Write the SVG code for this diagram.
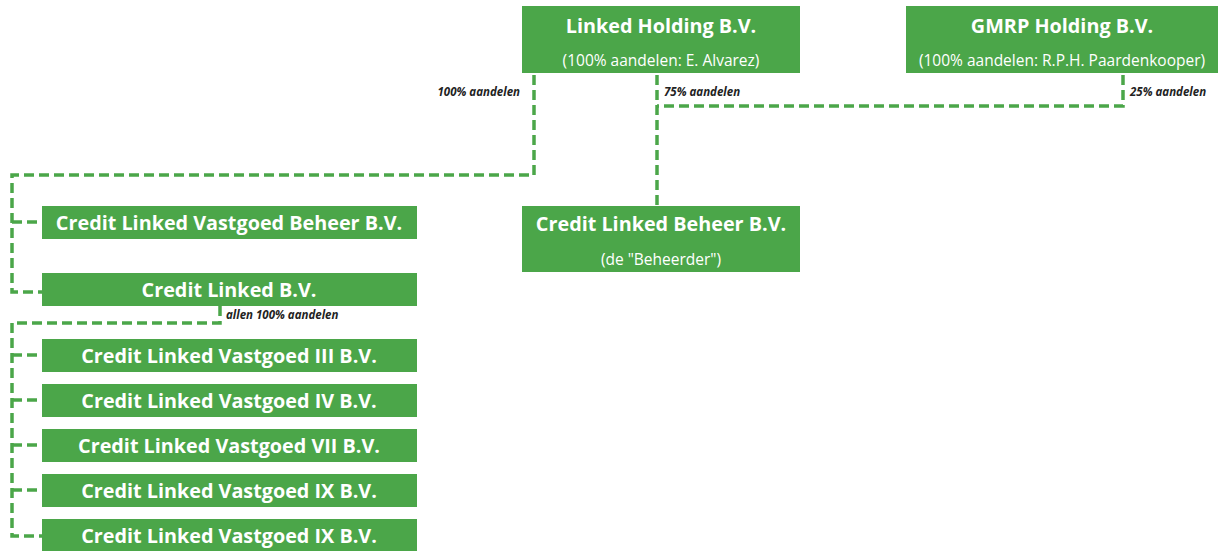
<svg xmlns="http://www.w3.org/2000/svg" width="1220" height="551" viewBox="0 0 1220 551">
<style>
.box{fill:#4ba649}
.t{font-family:"Open Sans","Liberation Sans",sans-serif;font-weight:bold;fill:#fff;text-anchor:middle}
.big{font-size:19.8px}
.sub{font-family:"Open Sans","Liberation Sans",sans-serif;font-size:15.5px;fill:#fff;text-anchor:middle}
.lbl{font-family:"Open Sans","Liberation Sans",sans-serif;font-size:11.5px;font-weight:bold;font-style:italic;fill:#222}
.c{fill:none;stroke:#4ba649;stroke-width:3.5;stroke-dasharray:10 5}
</style>
<rect width="1220" height="551" fill="#fff"/>
<g id="connectors">
<path class="c" d="M534,75 V175 H12 V292 H42"/>
<path class="c" d="M12,222 H42"/>
<path class="c" d="M657,75 V206"/>
<path class="c" d="M1123,75 V106 H657"/>
<path class="c" d="M220,306 V323 H12 V536 H42"/>
<path class="c" d="M12,355 H42"/>
<path class="c" d="M12,400 H42"/>
<path class="c" d="M12,445 H42"/>
<path class="c" d="M12,490 H42"/>
</g>
<g id="labels">
<text class="lbl" x="520" y="96" text-anchor="end">100% aandelen</text>
<text class="lbl" x="664" y="96">75% aandelen</text>
<text class="lbl" x="1130" y="96">25% aandelen</text>
<text class="lbl" x="226" y="319">allen 100% aandelen</text>
</g>
<g id="linked-holding">
<rect class="box" x="522" y="6" width="278" height="67"/>
<text class="t big" x="661" y="33">Linked Holding B.V.</text>
<text class="sub" x="661" y="66">(100% aandelen: E. Alvarez)</text>
</g>
<g id="gmrp-holding">
<rect class="box" x="906" y="6" width="312" height="67"/>
<text class="t big" x="1062" y="33">GMRP Holding B.V.</text>
<text class="sub" x="1062" y="66">(100% aandelen: R.P.H. Paardenkooper)</text>
</g>
<g id="credit-linked-beheer">
<rect class="box" x="522" y="206" width="278" height="66"/>
<text class="t big" x="661" y="231">Credit Linked Beheer B.V.</text>
<text class="sub" x="661" y="265">(de "Beheerder")</text>
</g>
<g id="clv-beheer">
<rect class="box" x="42" y="206" width="375" height="33"/>
<text class="t big" x="229" y="230">Credit Linked Vastgoed Beheer B.V.</text>
</g>
<g id="credit-linked-bv">
<rect class="box" x="42" y="273" width="375" height="33"/>
<text class="t big" x="229" y="297">Credit Linked B.V.</text>
</g>
<g id="clv-iii">
<rect class="box" x="42" y="339" width="375" height="33"/>
<text class="t big" x="229" y="363">Credit Linked Vastgoed III B.V.</text>
</g>
<g id="clv-iv">
<rect class="box" x="42" y="384" width="375" height="33"/>
<text class="t big" x="229" y="408">Credit Linked Vastgoed IV B.V.</text>
</g>
<g id="clv-vii">
<rect class="box" x="42" y="429" width="375" height="33"/>
<text class="t big" x="229" y="453">Credit Linked Vastgoed VII B.V.</text>
</g>
<g id="clv-ix-1">
<rect class="box" x="42" y="474" width="375" height="33"/>
<text class="t big" x="229" y="498">Credit Linked Vastgoed IX B.V.</text>
</g>
<g id="clv-ix-2">
<rect class="box" x="42" y="519" width="375" height="33"/>
<text class="t big" x="229" y="543">Credit Linked Vastgoed IX B.V.</text>
</g>
</svg>
